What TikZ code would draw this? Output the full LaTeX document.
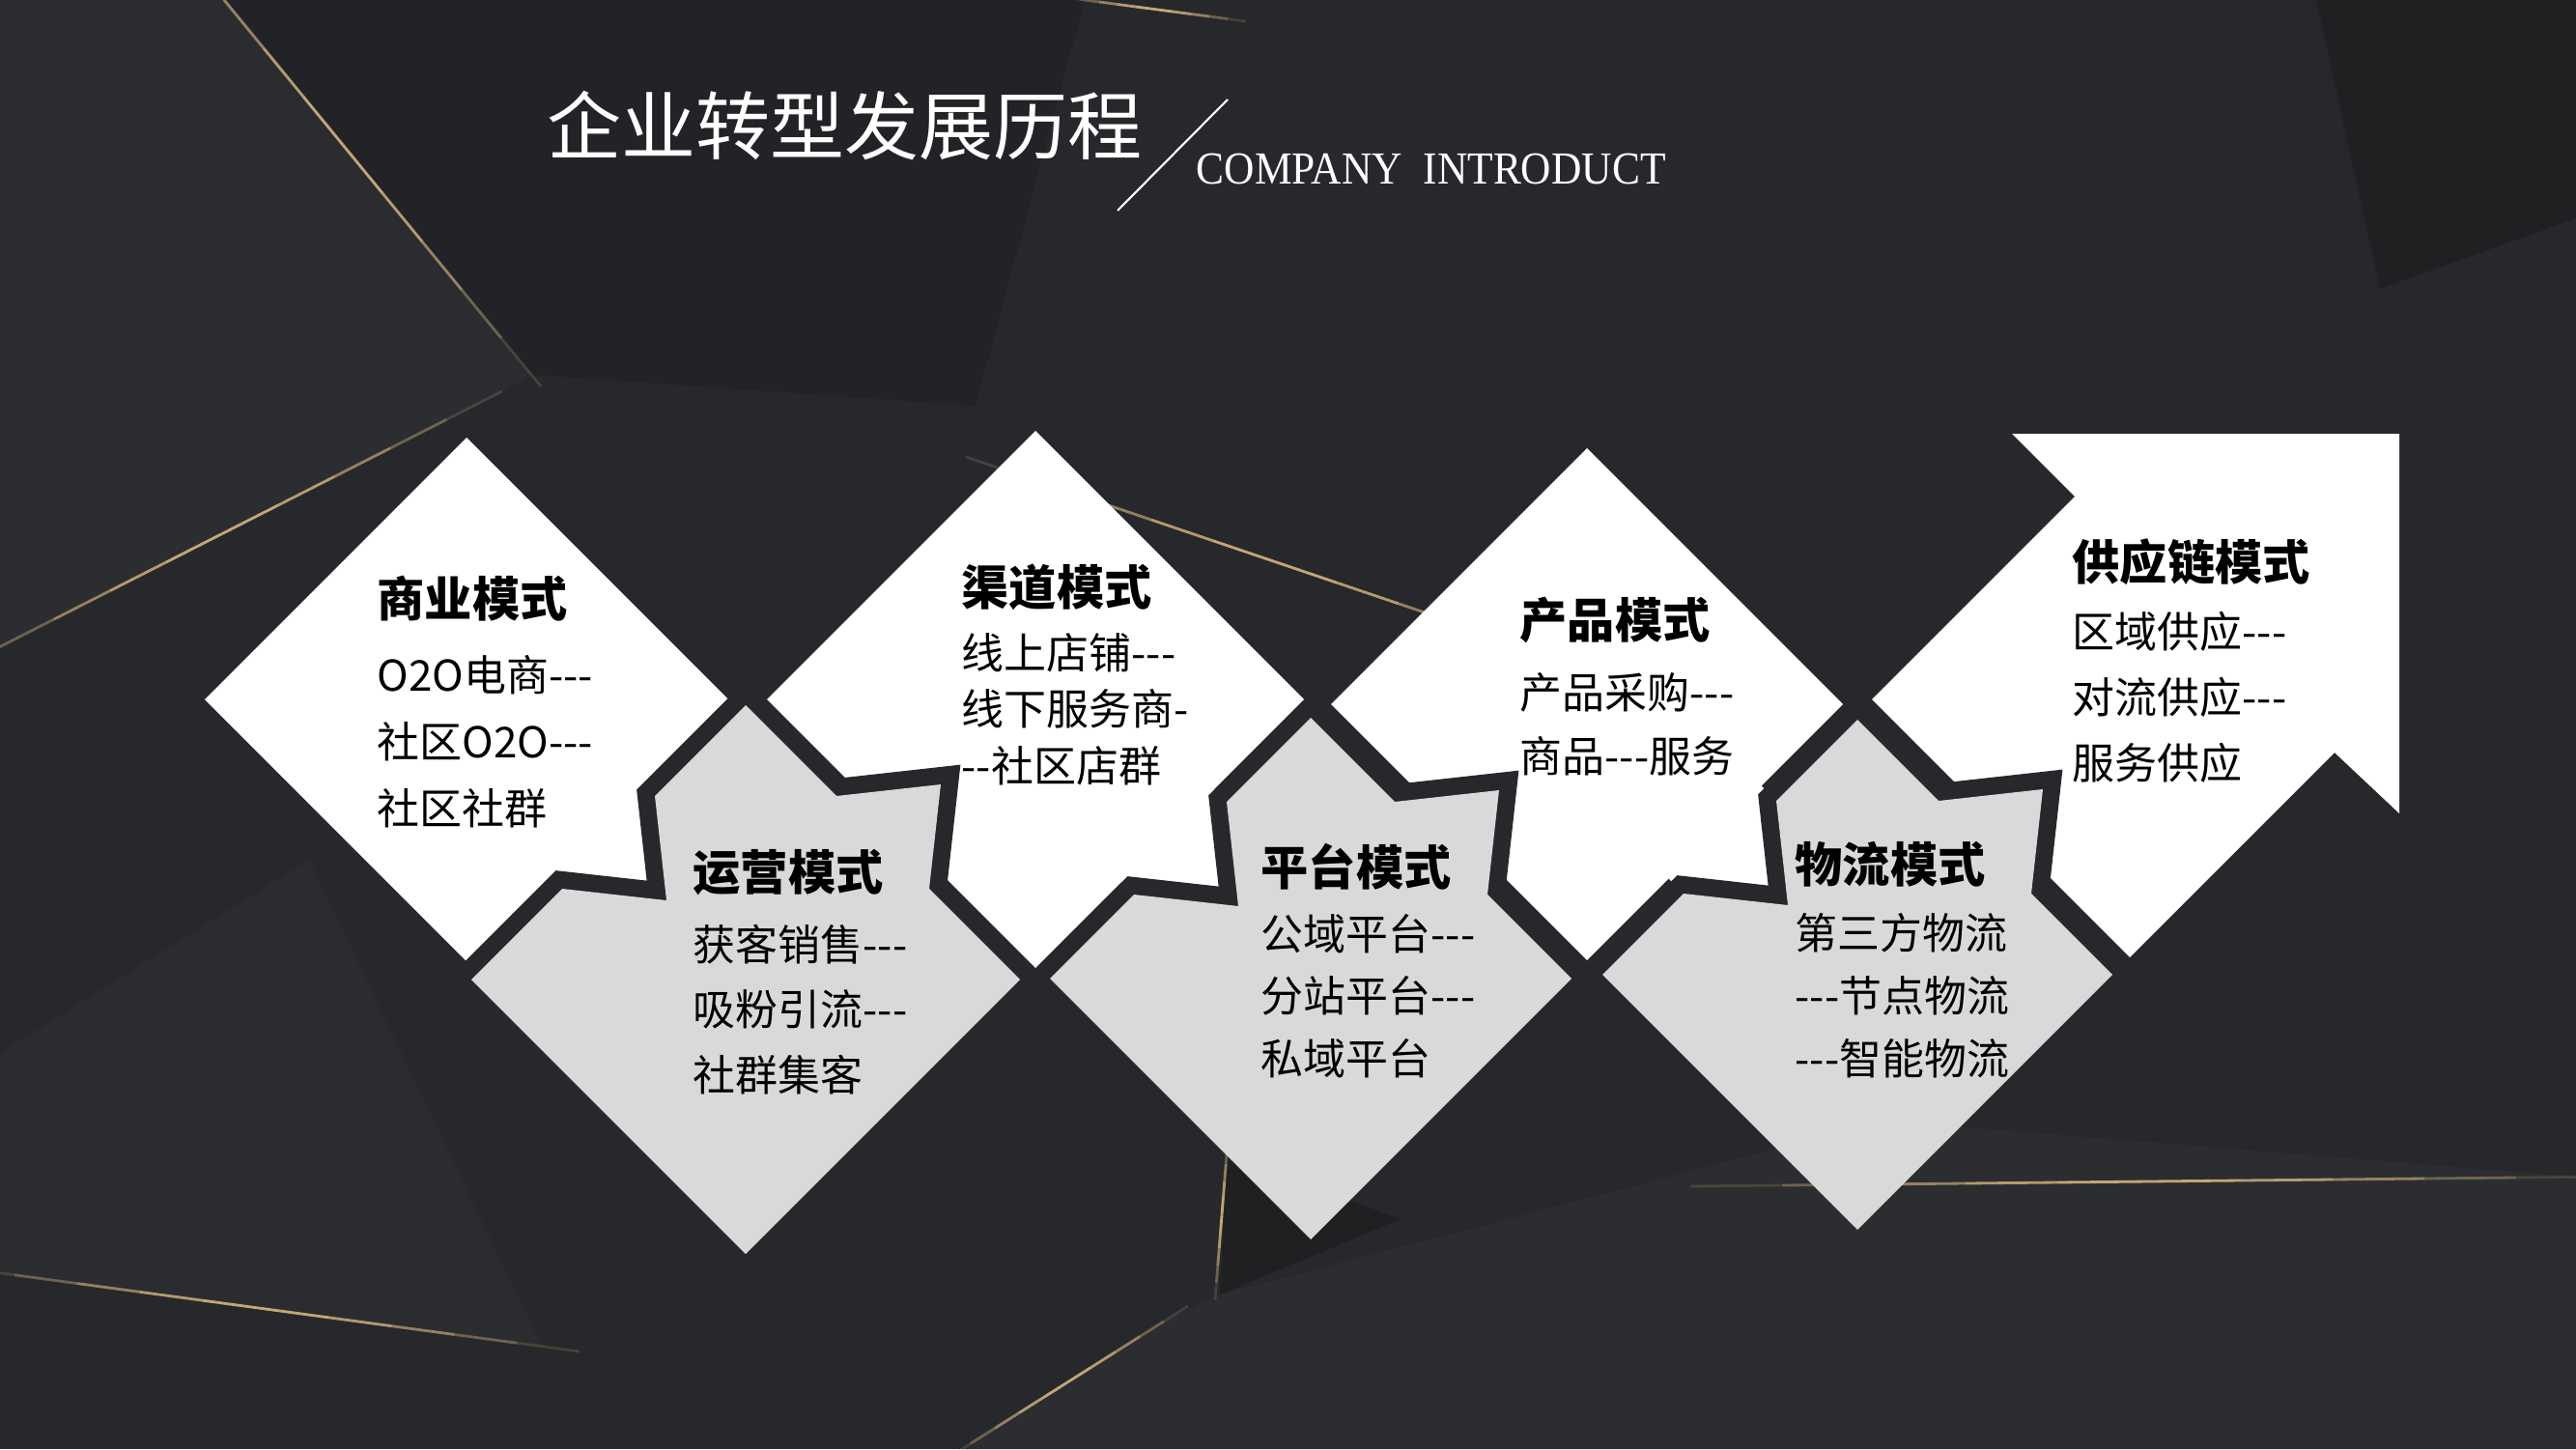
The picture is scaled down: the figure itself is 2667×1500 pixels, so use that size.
\documentclass[tikz,border=0pt]{standalone}
\usepackage{fontspec}
\newfontfamily\cjk{Noto Sans CJK SC}
\newfontfamily\latinserif{Liberation Serif}[FakeStretch=0.915]
\usetikzlibrary{calc}

\definecolor{bgdark}{HTML}{26282B}
\definecolor{facetlight}{HTML}{2A2C2F}
\definecolor{facetpale}{HTML}{2B2D30}
\definecolor{facetdark}{HTML}{222326}
\definecolor{facetdeep}{HTML}{1F2022}
\definecolor{gold}{HTML}{C4A676}
\definecolor{panelgray}{HTML}{D9D9D9}

\begin{document}
\begin{tikzpicture}[x=0.01cm, y=-0.01cm,
    paneltitle/.style={anchor=west, inner sep=0pt, font=\cjk\bfseries\fontsize{14}{16}\selectfont},
    panelbody/.style={anchor=west, inner sep=0pt, align=left, font=\cjk\fontsize{12.5}{#1}\selectfont},
    panelbody/.default=19,
    panelborder/.style={draw=bgdark, line width=0.36cm, line join=miter},
]
    % background and facets
    \fill[bgdark] (0,0) rectangle (2667,1500);
    \useasboundingbox (0,0) rectangle (2667,1500);
    \fill[facetlight] (0,0) -- (235,0) -- (551,388) -- (0,446) -- cycle;
    \fill[facetdark] (235,0) -- (1123,0) -- (1010,420) -- (551,388) -- cycle;
    \fill[facetpale] (0,446) -- (551,388) -- (476,429) -- (0,670) -- cycle;
    \fill[facetlight] (0,1090) -- (320,890) -- (561,1394) -- (0,1318) -- cycle;
    \fill[facetpale] (1263,1340) -- (1950,1160) -- (2667,1218) -- (2667,1500) -- (996,1500) -- (1206,1367) -- cycle;
    \fill[facetdeep] (1270,1197) -- (1263,1340) -- (1450,1262) -- cycle;
    \fill[facetdeep] (2398,0) -- (2464,299) -- (2667,226) -- (2667,0) -- cycle;

    % gold lines
    \foreach \ax/\ay/\bx/\by/\m in {150/-100/560/400/0.9, -60/700/520/405/0.7, 1000/473/1640/690/0.9,
        -50/1311/600/1399/0.8, 1272/1170/1258/1345/0.4, 1230/1352/980/1510/0.3,
        1750/1228/2700/1218/1, 1100/-3/1290/22/0.5}
      \foreach \t/\o [evaluate=\o as \op using \o*\m, evaluate=\t as \tn using \t+0.1] in
          {0/.2, .1/.45, .2/.7, .3/.9, .4/1, .5/1, .6/.9, .7/.7, .8/.45, .9/.2}
        \draw[gold, line width=0.8pt, opacity=\op] ($(\ax,\ay)!\t!(\bx,\by)$) -- ($(\ax,\ay)!\tn!(\bx,\by)$);

    % white diamonds and arrow
    \foreach \cx/\cy/\h in {483/724/271, 1072/724/278, 1643/729/265}
      \fill[white] (\cx-\h,\cy) -- (\cx,\cy-\h) -- (\cx+\h,\cy) -- (\cx,\cy+\h) -- cycle;
    \fill[white] (1938,724) -- (2148,514) -- (2083,449) -- (2484,449) -- (2484,842) -- (2417,779) -- (2205,991) -- cycle;

    % gray panels with notch and tab
    \foreach \cx/\cy/\h in {772/1014/284, 1357/1013/270, 1923/1009/264} {
      \coordinate (l) at (\cx-\h,\cy);
      \coordinate (n1) at ({\cx-\h/2-48},{\cy-\h/2+48});
      \coordinate (na) at ({\cx-\h/2+60},{\cy-\h/2+60});
      \coordinate (n3) at ({\cx-\h/2+48},{\cy-\h/2-48});
      \coordinate (t) at (\cx,\cy-\h);
      \coordinate (t1) at ({\cx+\h/2-48},{\cy-\h/2-48});
      \coordinate (ta) at ({\cx+\h/2+60},{\cy-\h/2-60});
      \coordinate (t3) at ({\cx+\h/2+48},{\cy-\h/2+48});
      \coordinate (r) at (\cx+\h,\cy);
      \coordinate (b) at (\cx,\cy+\h);
      \fill[white] ($(n1)+(-22,-22)$) -- (n1) -- (na) -- (n3) -- ($(n3)+(-22,-22)$) -- cycle;
      \draw[panelborder] (l) -- (n1) -- (na) -- (n3) -- (t) -- (t1) -- (ta) -- (t3) -- (r);
      \fill[panelgray] (l) -- (n1) -- (na) -- (n3) -- (t) -- (t1) -- (ta) -- (t3) -- (r) -- (b) -- cycle;
    }

    % title
    \node[anchor=west, inner sep=0pt, text=white, font=\cjk\fontsize{21.9}{24}\selectfont] (title) at (566,130) {企业转型发展历程};
    \coordinate (slashtop) at (1271,103);
    \coordinate (slashbot) at (1157,218);
    \draw[white, line width=0.6pt] (slashtop) -- (slashbot);
    \node[anchor=base west, inner sep=0pt, text=white, font=\latinserif\fontsize{13.5}{15}\selectfont] (subtitle) at (1238,190) {COMPANY\ \ INTRODUCT};

    % panel texts
    \node[paneltitle] (biz) at (390,620) {商业模式};
    \node[panelbody=19.6] (bizlist) at (390,768) {O2O电商---\\社区O2O---\\社区社群};
    \node[paneltitle] (ops) at (717,903) {运营模式};
    \node[panelbody=19.1] (opslist) at (717,1045) {获客销售---\\吸粉引流---\\社群集客};
    \node[paneltitle] (chan) at (995,608) {渠道模式};
    \node[panelbody=16.6] (chanlist) at (995,734) {线上店铺---\\线下服务商-\\--社区店群};
    \node[paneltitle] (plat) at (1305,897) {平台模式};
    \node[panelbody=18.4] (platlist) at (1305,1031) {公域平台---\\分站平台---\\私域平台};
    \node[paneltitle] (prod) at (1573,642) {产品模式};
    \node[panelbody=18.8] (prodlist) at (1573,750) {产品采购---\\商品---服务};
    \node[paneltitle] (logi) at (1858,895) {物流模式};
    \node[panelbody=18.5] (logilist) at (1858,1031) {第三方物流\\---节点物流\\---智能物流};
    \node[paneltitle] (supply) at (2145,582) {供应链模式};
    \node[panelbody=19.3] (supplylist) at (2145,722) {区域供应---\\对流供应---\\服务供应};
\end{tikzpicture}
\end{document}
